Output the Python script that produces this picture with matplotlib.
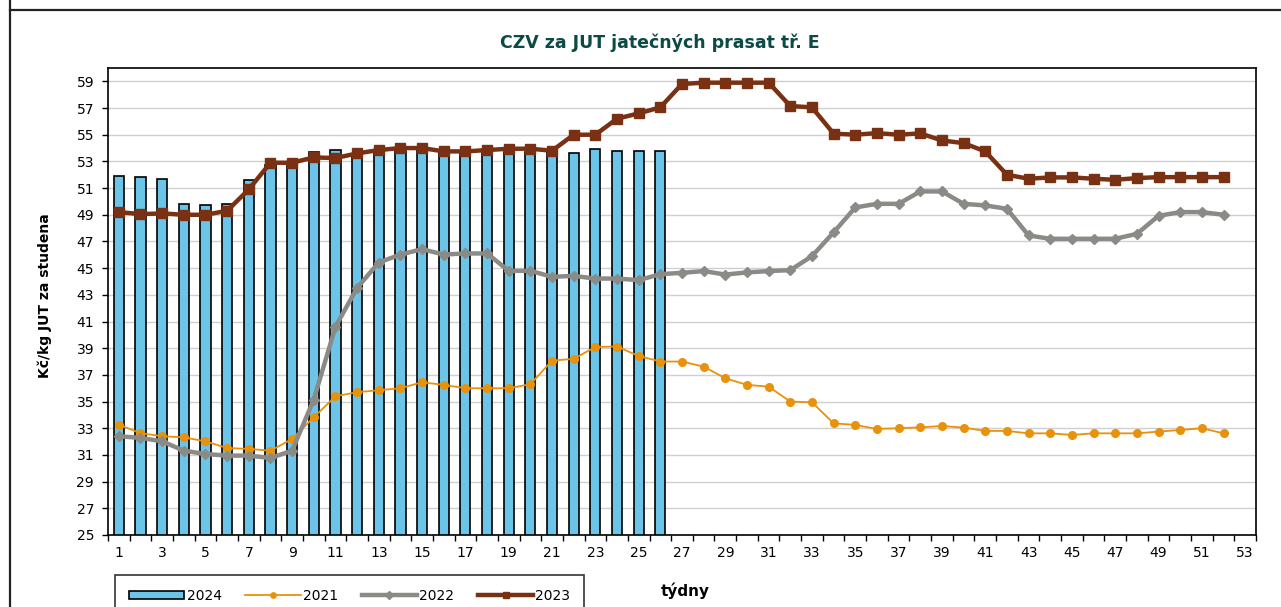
import numpy as np
import matplotlib
matplotlib.use('Agg')
import matplotlib.pyplot as plt
from matplotlib.lines import Line2D
from matplotlib.ticker import FixedLocator, NullFormatter

weeks = np.arange(1, 53)
weeks_2024 = np.arange(1, 27)

y2024 = [51.9, 51.8, 51.7, 49.8, 49.7, 49.8, 51.6, 52.7, 52.8, 53.7,
         53.85, 53.5, 53.7, 53.8, 53.9, 53.8, 53.7, 53.8, 53.7, 53.7,
         53.7, 53.6, 53.9, 53.75, 53.75, 53.75]

y2021 = [33.27, 32.63, 32.4, 32.32, 32.02, 31.52, 31.45, 31.32, 32.2, 33.82,
         35.4, 35.7, 35.85, 36.0, 36.45, 36.25, 36.0, 36.0, 36.0, 36.3,
         38.07, 38.2, 39.1, 39.12, 38.42, 38.0, 38.0, 37.62, 36.75, 36.25,
         36.12, 35.0, 34.95, 33.37, 33.25, 32.95, 33.0, 33.07, 33.17, 33.05,
         32.8, 32.8, 32.62, 32.62, 32.5, 32.62, 32.62, 32.62, 32.75, 32.87, 33.0, 32.62]

y2022 = [32.4, 32.28, 32.02, 31.32, 31.07, 30.95, 30.95, 30.77, 31.32, 35.15,
         40.6, 43.52, 45.42, 46.02, 46.42, 46.02, 46.1, 46.1, 44.8, 44.8,
         44.35, 44.42, 44.22, 44.22, 44.1, 44.55, 44.65, 44.78, 44.52, 44.68,
         44.78, 44.85, 45.9, 47.68, 49.55, 49.82, 49.82, 50.75, 50.75, 49.82,
         49.7, 49.45, 47.45, 47.2, 47.2, 47.2, 47.2, 47.57, 48.92, 49.2, 49.2, 49.0]

y2023 = [49.2, 49.05, 49.1, 49.0, 49.0, 49.3, 50.9, 52.9, 52.9, 53.3,
         53.25, 53.6, 53.85, 54.0, 54.0, 53.75, 53.75, 53.85, 53.95, 53.95,
         53.8, 55.0, 55.0, 56.2, 56.6, 57.05, 58.8, 58.9, 58.9, 58.9,
         58.9, 57.15, 57.05, 55.08, 55.0, 55.12, 55.0, 55.1, 54.57, 54.37,
         53.75, 52.0, 51.7, 51.8, 51.8, 51.7, 51.62, 51.75, 51.82, 51.82, 51.82, 51.82]

plt.rcParams['font.family'] = ['DejaVu Sans']

W, H = 1281, 607
fig = plt.figure(figsize=(W / 100, H / 100), dpi=100)
ax = fig.add_axes([108 / W, 1 - 535 / H, (1256 - 108) / W, (535 - 68) / H])

bars = ax.bar(weeks_2024, y2024, width=0.47, color='#6CC4E8', edgecolor='black',
              linewidth=1.2, label='2024', zorder=2)
l21, = ax.plot(weeks, y2021, color='#E8920C', lw=1.3, marker='o', ms=5.5,
               mec='#E8920C', label='2021', zorder=3)
l22, = ax.plot(weeks, y2022, color='#8A8A86', lw=3.2, marker='D', ms=5.5,
               mec='#8A8A86', label='2022', zorder=4)
l23, = ax.plot(weeks, y2023, color='#7A3012', lw=3.2, marker='s', ms=7,
               mec='#7A3012', label='2023', zorder=5)

ax.set_xlim(0.5, 53.5)
ax.set_ylim(25, 60)
ax.set_yticks(np.arange(25, 60, 2))
ax.yaxis.grid(True, color='#D0D0D0', lw=1.0, zorder=0)
ax.set_axisbelow(True)

ax.xaxis.set_major_locator(FixedLocator(np.arange(1, 54, 2)))
ax.xaxis.set_minor_locator(FixedLocator(np.arange(0.5, 54, 1)))
ax.xaxis.set_minor_formatter(NullFormatter())
ax.tick_params(axis='x', which='major', length=0, pad=8, labelsize=10)
ax.tick_params(axis='x', which='minor', length=4, width=1, direction='out')
ax.tick_params(axis='y', length=4, width=1, direction='out', pad=6, labelsize=10)

for s in ax.spines.values():
    s.set_linewidth(1.2)
    s.set_color('black')

fig.text(660 / W, 1 - 43 / H, 'CZV za JUT jatečných prasat tř. E', ha='center',
         va='center', fontsize=12.5, fontweight='bold', color='#0B4A45')
fig.text(45 / W, 1 - 296 / H, 'Kč/kg JUT za studena', rotation=90, ha='center',
         va='center', fontsize=10, fontweight='bold')
fig.text(685 / W, 1 - 591 / H, 'týdny', ha='center', va='center',
         fontsize=11, fontweight='bold')

leg = fig.legend([bars, l21, l22, l23], ['2024', '2021', '2022', '2023'],
                 loc='upper left', bbox_to_anchor=(115 / W, 1 - 575 / H),
                 ncol=4, fontsize=10, frameon=True, fancybox=False, edgecolor='black',
                 handlelength=4.0, handleheight=0.5, handletextpad=0.15,
                 columnspacing=1.7, borderpad=1.0, borderaxespad=0, markerscale=0.7)
leg.get_frame().set_linewidth(1.2)

# outer frame of the chart
fig.add_artist(Line2D([10 / W, 10 / W], [0, 1], color='#222222', lw=1.6))
fig.add_artist(Line2D([10 / W, 1], [1 - 10 / H, 1 - 10 / H], color='#222222', lw=1.6))

fig.savefig('out.png', dpi=100)
